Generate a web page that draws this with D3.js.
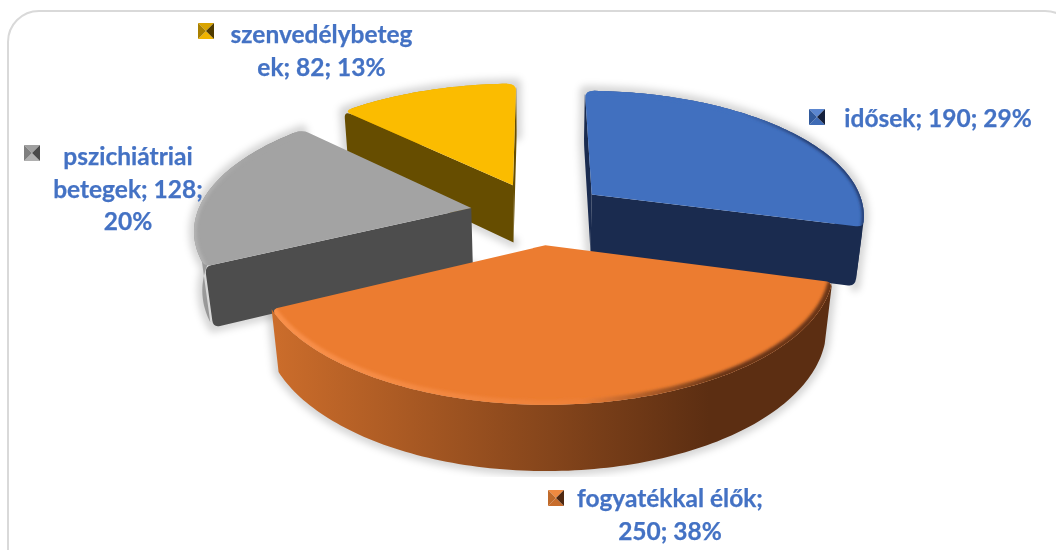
<!DOCTYPE html>
<html>
<head>
<meta charset="utf-8">
<script src="https://cdn.jsdelivr.net/npm/d3@7/dist/d3.min.js"></script>
<style>
html,body{margin:0;padding:0;background:#fff;overflow:hidden}
svg{display:block}
text{font-family:Lato,"Open Sans",sans-serif;font-weight:700;fill:#4472c4;stroke:#4472c4;stroke-width:.25;text-anchor:middle}
</style>
</head>
<body>
<svg id="chart" width="1056" height="550"></svg>
<script>
// Data
const categories = ["idősek", "fogyatékkal élők", "pszichiátriai betegek", "szenvedélybetegek"];
const values = [190, 250, 128, 82];
const percents = [29, 38, 20, 13];
const labelLines = [
  ["idősek; 190; 29%"],
  ["fogyatékkal élők;", "250; 38%"],
  ["pszichiátriai", "betegek; 128;", "20%"],
  ["szenvedélybeteg", "ek; 82; 13%"]
];
// Styles
const topColors   = ["#4170bf", "#ec7c30", "#a3a3a3", "#fbbc00"];
const cutColors   = ["#1a2b4f", "#6b3616", "#4d4d4d", "#664d00"];
const wallLeft    = ["#22396a", "#cc6d2b", "#a0a0a0", "#a97f00"];
const wallRight   = ["#1a2b4f", "#5c2e12", "#5c5c5c", "#cf9c00"];
const rimLeft     = ["#4170bf", "#f9904a", "#b4b4b4", "#fbbc00"];
const rimMid      = ["#4170bf", "#ee8038", "#a3a3a3", "#fbbc00"];
const rimRight    = ["#22396a", "#6a3616", "#a3a3a3", "#fbbc00"];
const rimWidth    = [4, 9, 5, 2];
const labelCenters = [938, 670, 128, 321.5];
const labelBaselines = [127, 507, 165, 43];
const lineStep = 32.5;
const keyPositions = [[809, 109], [548, 490], [24, 145], [198, 23]];
const keySize = 16;
const fontSize = 24.5;
const keyShades = [
  ["#5b86cf", "#3f6bb5", "#14203c", "#325a9c"],
  ["#f08a40", "#c86d2c", "#4f2810", "#c06a2a"],
  ["#a0a0a0", "#b0b0b0", "#4a4a4a", "#7f7f7f"],
  ["#d9a400", "#f0b400", "#4f3b00", "#a98000"]
];

// Perspective model of an exploded pie
const cx = 538.5, cy = 213;       // screen position of the pie centre
const rx = 274, ry = 124.6;       // screen scale of a unit radius
const sinkY = 0.151, sinkD = 0.024; // perspective strength
const depth = 60;                 // slice thickness on screen
const explode = 0.25;             // slice offset in radii
const cornerR = 7;                // bevel rounding of outer corners

function project(X, Y, D) {
  const w = 1 - sinkY * Y + sinkD * D;
  return [cx + rx * X / w, cy + (ry * Y + depth * D) / w];
}
const svg = d3.select("#chart");
const defs = svg.append("defs");
const line = d3.line();
const closed = pts => line(pts) + "Z";
function toward(a, b, dist) {
  const dx = b[0] - a[0], dy = b[1] - a[1], len = Math.hypot(dx, dy) || 1;
  return [a[0] + dx / len * dist, a[1] + dy / len * dist];
}
// polygon whose listed vertices are rounded off
function roundedPoly(pts, radii) {
  const n = pts.length;
  let d = "";
  pts.forEach((p, i) => {
    const r = radii[i];
    if (!r) { d += (d ? "L" : "M") + p[0] + "," + p[1]; return; }
    const a = toward(p, pts[(i + n - 1) % n], r), b = toward(p, pts[(i + 1) % n], r);
    d += (d ? "L" : "M") + a[0] + "," + a[1] + "Q" + p[0] + "," + p[1] + " " + b[0] + "," + b[1];
  });
  return d + "Z";
}

// Frame
svg.append("rect").attr("x", 8).attr("y", 11).attr("width", 1068).attr("height", 570)
  .attr("rx", 31).attr("ry", 31).attr("fill", "#fff").attr("stroke", "#d9d9d9").attr("stroke-width", 2);

const pie = d3.pie().sort(null)(values);
const slices = pie.map((p, i) => {
  const mid = (p.startAngle + p.endAngle) / 2;
  const ox = explode * Math.sin(mid), oy = -explode * Math.cos(mid);
  const count = Math.ceil((p.endAngle - p.startAngle) / 0.02);
  const angles = d3.range(count + 1).map(j => p.startAngle + (p.endAngle - p.startAngle) * j / count);
  const pt = (a, D) => project(ox + Math.sin(a), oy - Math.cos(a), D);
  const apex0 = project(ox, oy, 0), apex1 = project(ox, oy, 1);
  const arc0 = angles.map(a => pt(a, 0)), arc1 = angles.map(a => pt(a, 1));
  return {i, apex0, apex1, arc0, arc1};
});

// Soft shadows
defs.append("filter").attr("id", "soft").attr("x", "-20%").attr("y", "-20%").attr("width", "140%").attr("height", "140%")
  .append("feGaussianBlur").attr("stdDeviation", 3.5);
defs.append("filter").attr("id", "rimBlur").attr("x", "-10%").attr("y", "-10%").attr("width", "120%").attr("height", "120%")
  .append("feGaussianBlur").attr("stdDeviation", 1.5);
defs.append("clipPath").attr("id", "shadowClip").append("rect")
  .attr("x", 0).attr("y", 0).attr("width", 1056).attr("height", 477);
const shadowG = svg.append("g").attr("clip-path", "url(#shadowClip)")
  .append("g").attr("filter", "url(#soft)");
slices.forEach(s => {
  shadowG.append("path")
    .attr("d", closed([s.apex1, ...s.arc1, s.arc0[s.arc0.length - 1], ...[...s.arc0].reverse(), s.arc1[0]]))
    .attr("fill", "#000").attr("stroke", "#000").attr("stroke-width", 10)
    .attr("stroke-linejoin", "round").attr("opacity", 0.16);
});

// Slices, far to near
[3, 2, 0, 1].forEach(idx => {
  const s = slices[idx], i = s.i;
  const g = svg.append("g");
  const xs = s.arc0.map(d => d[0]);
  const x0 = d3.min(xs), x1 = d3.max(xs);
  const grad = (id, stops) => {
    const lg = defs.append("linearGradient").attr("id", id)
      .attr("gradientUnits", "userSpaceOnUse").attr("x1", x0).attr("x2", x1).attr("y1", 0).attr("y2", 0);
    stops.forEach(st => lg.append("stop").attr("offset", st[0]).attr("stop-color", st[1]));
  };
  grad("wall" + i, [[0, wallLeft[i]], [i === 1 ? 0.78 : 1, wallRight[i]]]);
  grad("rim" + i, [[0, rimLeft[i]], [0.55, rimMid[i]], [0.8, rimRight[i]], [1, rimRight[i]]]);
  const n = s.arc0.length - 1, m = 2;
  // outer wall: full ends on the pie's front so no gap shows beside hidden cut faces
  const frontSlice = i === 1;
  const wa = frontSlice ? 0 : m, wb = frontSlice ? n : n - m;
  g.append("path").attr("d", closed([...s.arc0.slice(wa, wb + 1), ...s.arc1.slice(wa, wb + 1).reverse()]))
    .attr("fill", `url(#wall${i})`);
  // cut faces: only those turned toward the viewer
  [[s.arc0[0], s.arc1[0], -1], [s.arc0[n], s.arc1[n], 1]].forEach(([a, b, facing]) => {
    const quad = [s.apex0, a, b, s.apex1];
    let area = 0;
    quad.forEach((p, k) => { const q = quad[(k + 1) % 4]; area += p[0] * q[1] - q[0] * p[1]; });
    if (area * facing <= 0) return;
    g.append("path").attr("d", roundedPoly(quad, [0, cornerR, cornerR, 0]))
      .attr("fill", cutColors[i]);
  });
  // top surface with softened outer corners
  const pa = toward(s.arc0[0], s.apex0, cornerR), pb = toward(s.arc0[n], s.apex0, cornerR);
  const topPath = `M${s.apex0}L${pa}Q${s.arc0[0]} ${s.arc0[m]}` +
    line(s.arc0.slice(m, n - m + 1)).replace(/^M/, "L") + `Q${s.arc0[n]} ${pb}Z`;
  g.append("path").attr("d", topPath).attr("fill", topColors[i]);
  defs.append("clipPath").attr("id", "topClip" + i).append("path").attr("d", topPath);
  // bevelled rim
  g.append("g").attr("clip-path", `url(#topClip${i})`)
    .append("path").attr("d", line(s.arc0)).attr("fill", "none")
    .attr("stroke", `url(#rim${i})`).attr("stroke-width", rimWidth[i]).attr("filter", "url(#rimBlur)");
});

// Labels
labelLines.forEach((lines, i) => {
  const t = svg.append("text").attr("font-size", fontSize);
  lines.forEach((l, j) => {
    t.append("tspan").attr("x", labelCenters[i]).attr("y", labelBaselines[i] + j * lineStep).text(l);
  });
});

// Bevelled legend keys
keyPositions.forEach((p, i) => {
  const [x, y] = p, k = keySize, c = [x + k / 2, y + k / 2];
  const tris = [
    [[x, y], [x + k, y], c],
    [[x, y + k], [x + k, y + k], c],
    [[x + k, y], [x + k, y + k], c],
    [[x, y], [x, y + k], c]
  ];
  tris.forEach((tri, j) => {
    svg.append("path").attr("d", closed(tri)).attr("fill", keyShades[i][j]);
  });
});
</script>
</body>
</html>
